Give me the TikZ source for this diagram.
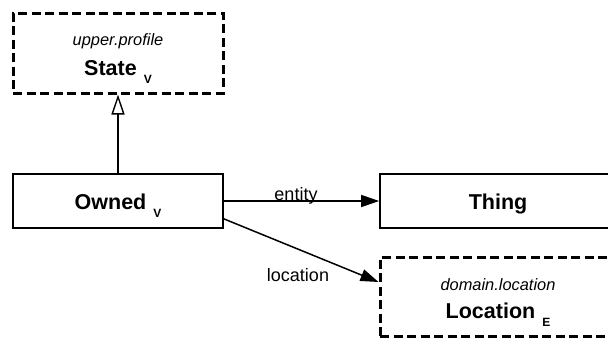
\documentclass[tikz,border=0pt]{standalone}
\usepackage{fontspec}
\setmainfont{Liberation Sans}
\usetikzlibrary{arrows.meta,calc}
\begin{document}
\begin{tikzpicture}[x=1pt,y=-1pt,
  solidbox/.style={draw, line width=1.7pt, rectangle, inner sep=0pt},
  dashbox/.style={draw, line width=3pt, dash pattern=on 9pt off 4.5pt, rectangle, inner sep=0pt},
  pkg/.style={anchor=base, font=\fontsize{16.4}{16.4}\selectfont\itshape},
  title/.style={anchor=base, font=\fontsize{21.5}{21.5}\selectfont\bfseries},
  lbl/.style={anchor=base, font=\fontsize{18}{18}\selectfont},
  conn/.style={line width=1.5pt},
]
\newcommand{\stereo}[1]{\hspace{7pt}\raisebox{-8pt}{\fontsize{12}{12}\selectfont\bfseries #1}}
\useasboundingbox (0,0) rectangle (608,338);
\begin{scope}
\clip (0,0) rectangle (608,338);
\node[dashbox, minimum width=210pt, minimum height=80pt] (state) at (118,53) {};
\node[solidbox, minimum width=210pt, minimum height=54pt] (owned) at (118,201) {};
\node[solidbox, minimum width=236pt, minimum height=54pt] (thing) at (498,201) {};
\node[dashbox, minimum width=236pt, minimum height=79pt] (loc) at (498,296.5) {};
\end{scope}
\node[pkg] (statepkg) at (118,45) {upper.profile};
\node[title] (statename) at (118,75) {State\stereo{V}};
\node[title] (ownedname) at (118,209) {Owned\stereo{V}};
\node[title] (thingname) at (498,209) {Thing};
\node[pkg] (locpkg) at (498,290) {domain.location};
\node[title] (locname) at (498,318) {Location\stereo{E}};
\draw[conn, -{Triangle[open, length=20pt, width=13pt, line width=1.4pt]}] (owned.north) -- (state.south);
\draw[conn, -{Triangle[length=18pt, width=12pt]}] (owned.east) -- (thing.west);
\coordinate (locstart) at ($(owned.south east)+(0,-10)$);
\coordinate (locend) at ($(loc.west)+(0,-14.5)$);
\draw[conn, -{Triangle[length=18pt, width=12pt]}] (locstart) -- (locend);
\node[lbl] (entitylbl) at (296,200) {entity};
\node[lbl] (loclbl) at (298,281) {location};
\end{tikzpicture}
\end{document}
